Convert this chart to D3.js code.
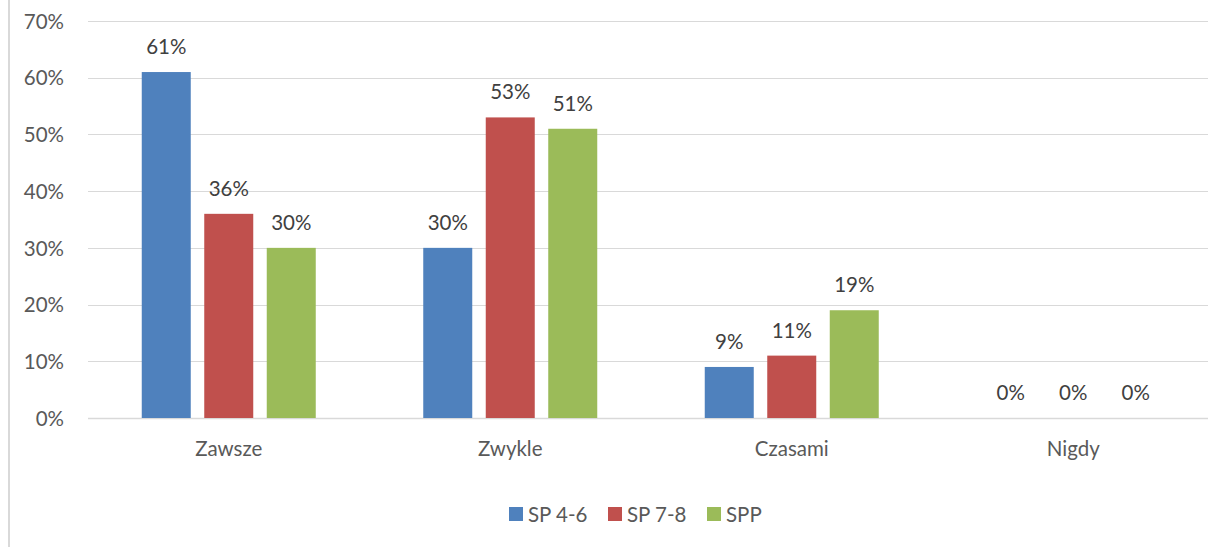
<!DOCTYPE html>
<html>
<head>
<meta charset="utf-8">
<script src="https://cdn.jsdelivr.net/npm/d3@7"></script>
<style>
  html, body { margin: 0; padding: 0; background: #fff; }
  svg { display: block; }
</style>
</head>
<body>
<svg id="chart" width="1208" height="547"></svg>
<script>
// Answer categories and share of respondents per school group
const categories = ["Zawsze", "Zwykle", "Czasami", "Nigdy"];
const seriesNames = ["SP 4-6", "SP 7-8", "SPP"];
const sp46 = [61, 30, 9, 0];
const sp78 = [36, 53, 11, 0];
const spp = [30, 51, 19, 0];
const yTicks = [0, 10, 20, 30, 40, 50, 60, 70];
const colors = ["#4f81bd", "#c0504d", "#9bbb59"];

const series = [sp46, sp78, spp];
const font = "Lato, 'Open Sans', sans-serif";
const fontSize = 20.5;
const textColor = "#595959";

const svg = d3.select("#chart");
const W = 1208, H = 547;

// outer frame edge on the left
svg.append("line")
  .attr("x1", 9).attr("x2", 9).attr("y1", 0).attr("y2", H)
  .attr("stroke", "#d9d9d9").attr("stroke-width", 2);

const plot = { left: 88, right: 1214, top: 21, bottom: 418 };

const x = d3.scaleBand()
  .domain(categories)
  .range([plot.left, plot.right]);

const y = d3.scaleLinear()
  .domain([0, 70])
  .range([plot.bottom, plot.top]);

// within-group positions
const barStep = 62.5, barWidth = 49;
const xs = d3.scaleOrdinal()
  .domain(seriesNames)
  .range(seriesNames.map((d, i) => (i - 1) * barStep - barWidth / 2));

// gridlines
svg.append("g")
  .selectAll("line")
  .data(yTicks)
  .join("line")
  .attr("x1", plot.left).attr("x2", plot.right)
  .attr("y1", d => Math.round(y(d)) + 0.5)
  .attr("y2", d => Math.round(y(d)) + 0.5)
  .attr("stroke", "#d9d9d9")
  .attr("stroke-width", d => d === 0 ? 1.5 : 1);

// y axis labels
const yAxis = d3.axisLeft(y).tickValues(yTicks).tickFormat(d => d + "%").tickSize(0).tickPadding(0);
const ya = svg.append("g").attr("transform", `translate(64,0)`).call(yAxis);
ya.select(".domain").remove();
ya.selectAll("text")
  .attr("font-family", font).attr("font-size", fontSize).attr("fill", textColor)
  .attr("dy", "0.35em");

// x axis labels
const xAxis = d3.axisBottom(x).tickSize(0).tickPadding(0);
const xa = svg.append("g").attr("transform", `translate(0,${plot.bottom})`).call(xAxis);
xa.select(".domain").remove();
xa.selectAll("text")
  .attr("font-family", font).attr("font-size", fontSize).attr("fill", textColor)
  .attr("y", 38).attr("dy", 0);

// bars and value labels
const groups = svg.append("g")
  .selectAll("g")
  .data(series)
  .join("g")
  .attr("fill", (d, i) => colors[i]);

groups.each(function (vals, si) {
  const g = d3.select(this);
  const name = seriesNames[si];
  const cx = c => x(c) + x.bandwidth() / 2 + xs(name);
  g.selectAll("rect")
    .data(vals.map((v, i) => ({ v, c: categories[i] })))
    .join("rect")
    .attr("x", d => cx(d.c))
    .attr("width", barWidth)
    .attr("y", d => y(d.v))
    .attr("height", d => y(0) - y(d.v));
  g.selectAll("text")
    .data(vals.map((v, i) => ({ v, c: categories[i] })))
    .join("text")
    .attr("x", d => cx(d.c) + barWidth / 2)
    .attr("y", d => y(d.v) - 18)
    .attr("text-anchor", "middle")
    .attr("font-family", font).attr("font-size", fontSize).attr("fill", "#404040")
    .text(d => d.v + "%");
});

// legend
const legendItems = [
  { name: seriesNames[0], x: 509 },
  { name: seriesNames[1], x: 608 },
  { name: seriesNames[2], x: 707 }
];
const lg = svg.append("g").selectAll("g").data(legendItems).join("g")
  .attr("transform", d => `translate(${d.x},507)`);
lg.append("rect").attr("width", 14).attr("height", 14)
  .attr("fill", (d, i) => colors[i]);
lg.append("text").attr("x", 19).attr("y", 15)
  .attr("font-family", font).attr("font-size", fontSize).attr("fill", textColor)
  .text(d => d.name);
</script>
</body>
</html>
